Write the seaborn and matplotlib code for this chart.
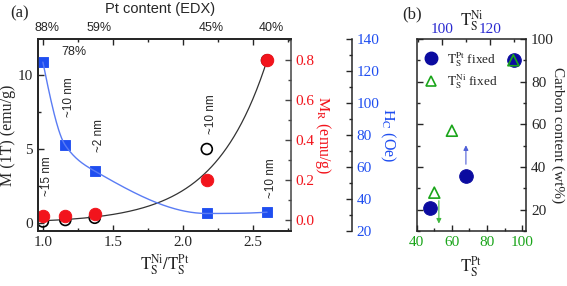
import numpy as np
import matplotlib
matplotlib.use("Agg")
import matplotlib.pyplot as plt
from matplotlib.ticker import MultipleLocator
from matplotlib.lines import Line2D
import seaborn as sns

# panel (a): ratio of sulfidation temperatures
RATIO = [1.00, 1.16, 1.37, 2.17, 2.60]
M_1T = [0.10, 0.20, 0.35, 5.0, 11.0]        # emu/g, open circles
M_R = [0.020, 0.022, 0.028, 0.20, 0.80]     # emu/g, red circles
H_C = [125.5, 73.5, 57.5, 31.0, 31.8]       # Oe, blue squares
PT_CONTENT = ["88%", "78%", "59%", "45%", "40%"]
SIZE_NOTES = ["~15 nm", "~10 nm", "~2 nm", "~10 nm", "~10 nm"]

# exponential fit drawn through M(1T) in the original: amp at last point, rate
M_FIT_AMP, M_FIT_RATE = 11.0, 2.68

# panel (b): carbon content
TNI_VARIED = [95, 110, 130]        # T_S^Pt fixed, plotted on top axis
CARBON_PT_FIXED = [21, 36, 90]
TPT_VARIED = [50, 60, 95]          # T_S^Ni fixed, plotted on bottom axis
CARBON_NI_FIXED = [28, 57, 90]

BLUE = "#1f4ef0"
BLUE_LINE = "#5a7cf4"
RED = "#f2141c"
NAVY = "#0b0ba0"
GREEN = "#1aa51a"
SANS = "Liberation Sans"


def pchip(x, y, xs):
    """monotone cubic (Fritsch-Carlson) guide line through the points"""
    x, y = np.asarray(x, float), np.asarray(y, float)
    h = np.diff(x)
    d = np.diff(y) / h
    m = np.zeros_like(y)
    for k in range(1, len(x) - 1):
        if d[k - 1] * d[k] > 0:
            w1, w2 = 2 * h[k] + h[k - 1], h[k] + 2 * h[k - 1]
            m[k] = (w1 + w2) / (w1 / d[k - 1] + w2 / d[k])
    for i, (h0, h1, d0, d1) in ((0, (h[0], h[1], d[0], d[1])),
                                (-1, (h[-1], h[-2], d[-1], d[-2]))):
        e = ((2 * h0 + h1) * d0 - h0 * d1) / (h0 + h1)
        if np.sign(e) != np.sign(d0):
            e = 0.0
        elif np.sign(d0) != np.sign(d1) and abs(e) > abs(3 * d0):
            e = 3 * d0
        m[i] = e
    idx = np.clip(np.searchsorted(x, xs) - 1, 0, len(x) - 2)
    t = (xs - x[idx]) / h[idx]
    h00 = 2 * t**3 - 3 * t**2 + 1
    h10 = t**3 - 2 * t**2 + t
    h01 = -2 * t**3 + 3 * t**2
    h11 = t**3 - t**2
    return (h00 * y[idx] + h10 * h[idx] * m[idx]
            + h01 * y[idx + 1] + h11 * h[idx] * m[idx + 1])


def style_ticks(ax, **kw):
    ax.tick_params(which="major", direction="in", length=4.5, width=1, **kw)
    ax.tick_params(which="minor", direction="in", length=2.5, width=1, **kw)


sns.set_theme(style="ticks")
plt.rcParams["font.family"] = "serif"
plt.rcParams["font.serif"] = ["Liberation Serif", "DejaVu Serif"]
plt.rcParams["mathtext.fontset"] = "stix"
plt.rcParams["axes.linewidth"] = 1.1

fig = plt.figure(figsize=(5.67, 2.86), dpi=100)

# ---------------- panel (a)
ax = fig.add_axes([0.067, 0.192, 0.446, 0.672])
ax_r = ax.twinx()
ax_h = ax.twinx()
ax_h.spines["right"].set_position(("axes", 1.241))

xs = np.linspace(RATIO[0], RATIO[-1], 300)
m_curve = M_FIT_AMP * np.exp(M_FIT_RATE * (xs - RATIO[-1]))

sns.lineplot(x=xs, y=m_curve, color="#333333", lw=0.9, ax=ax)
sns.scatterplot(x=RATIO, y=M_1T, marker="o", s=62, facecolor="none",
                edgecolor="black", linewidth=1.2, ax=ax)
sns.scatterplot(x=RATIO, y=M_R, marker="o", s=80, color=RED, edgecolor=RED, ax=ax_r)
sns.lineplot(x=xs, y=pchip(RATIO, H_C, xs), color=BLUE_LINE, lw=1, ax=ax_h)
sns.scatterplot(x=RATIO, y=H_C, marker="s", s=62, color=BLUE, edgecolor=BLUE, ax=ax_h)

ax.set_xlim(0.965, 2.77)
ax.set_ylim(-0.55, 12.45)
ax.xaxis.set_major_locator(MultipleLocator(0.5))
ax.xaxis.set_minor_locator(MultipleLocator(0.25))
ax.yaxis.set_major_locator(MultipleLocator(5))
ax.yaxis.set_minor_locator(MultipleLocator(2.5))
style_ticks(ax, top=True, labelsize=11)
ax.tick_params(axis="x", labeltop=False)
ax.spines["right"].set_visible(False)
ax.set_xlabel(r"$\mathrm{T_S^{Ni}/T_S^{Pt}}$", fontsize=12, labelpad=2)
ax.set_ylabel("M (1T) (emu/g)", fontsize=11.5, labelpad=1)

ax_r.set_ylim(-0.055, 0.905)
ax_r.yaxis.set_major_locator(MultipleLocator(0.2))
ax_r.yaxis.set_minor_locator(MultipleLocator(0.1))
ax_r.yaxis.set_major_formatter("{x:.1f}")
style_ticks(ax_r, labelsize=11, labelcolor=RED, color="#444444")
ax_r.spines["right"].set_color("#444444")
ax_r.set_ylabel(r"$\mathrm{M_R}$ (emu/g)", color=RED, fontsize=11.5,
                rotation=270, labelpad=13)

ax_h.set_ylim(20, 140)
ax_h.yaxis.set_major_locator(MultipleLocator(20))
ax_h.yaxis.set_minor_locator(MultipleLocator(10))
style_ticks(ax_h, labelsize=11, labelcolor=BLUE)
ax_h.set_ylabel(r"$\mathrm{H_C}$ (Oe)", color=BLUE, fontsize=11.5,
                rotation=270, labelpad=13)

for x, label in zip(RATIO, PT_CONTENT):
    inside = label == "78%"
    ax.annotate(label, xy=(x, 0.93 if inside else 1.057),
                xycoords=("data", "axes fraction"), xytext=(6 if inside else 3, 0),
                textcoords="offset points", ha="center", va="center",
                fontsize=9, family=SANS)

note_y = [3.2, 8.5, 5.9, 7.35, 3.0]
for x, y, note in zip(RATIO, note_y, SIZE_NOTES):
    ax.annotate(note, xy=(x, y), xytext=(3, 0), textcoords="offset points",
                rotation=90, ha="center", va="center", fontsize=8.5, family=SANS)

fig.text(0.282, 0.968, "Pt content (EDX)", ha="center", va="center",
         fontsize=10.5, family=SANS)
fig.text(0.018, 0.952, "(a)", ha="left", va="center", fontsize=12)

# ---------------- panel (b)
bx = fig.add_axes([0.735, 0.192, 0.193, 0.672])
bx_top = bx.twiny()

sns.scatterplot(x=TPT_VARIED, y=CARBON_NI_FIXED, marker="^", s=62,
                facecolor="none", edgecolor=GREEN, linewidth=1.2, ax=bx, zorder=4)
sns.scatterplot(x=TNI_VARIED, y=CARBON_PT_FIXED, marker="o", s=95,
                color=NAVY, edgecolor=NAVY, ax=bx_top, zorder=3)
bx.set_zorder(bx_top.get_zorder() + 1)
bx.patch.set_visible(False)

bx_top.annotate("", xy=(TNI_VARIED[1], 51.5), xytext=(TNI_VARIED[1], 40),
                arrowprops=dict(arrowstyle="-|>", color="#5060d8", lw=0.8,
                                mutation_scale=7))
bx.annotate("", xy=(52.6, 12.2), xytext=(52.6, 25.5),
            arrowprops=dict(arrowstyle="-|>", color="#40b840", lw=0.8,
                            mutation_scale=7))

bx.set_xlim(40, 102.3)
bx.set_ylim(10, 100)
bx.xaxis.set_major_locator(MultipleLocator(20))
bx.xaxis.set_minor_locator(MultipleLocator(10))
bx.yaxis.set_major_locator(MultipleLocator(20))
bx.yaxis.set_minor_locator(MultipleLocator(10))
style_ticks(bx, left=True, right=True, top=False, labelsize=11)
bx.tick_params(axis="y", labelleft=False, labelright=True)
bx.tick_params(axis="x", labelcolor=GREEN)
bx.yaxis.set_label_position("right")
bx.set_ylabel("Carbon content (wt%)", fontsize=11, rotation=270,
              va="center", ha="center")
bx.yaxis.set_label_coords(1.29, 0.5)
bx.set_xlabel(r"$\mathrm{T_S^{Pt}}$", fontsize=12, labelpad=4)

bx_top.set_xlim(89.6, 135)
bx_top.xaxis.set_major_locator(MultipleLocator(20))
bx_top.xaxis.set_minor_locator(MultipleLocator(10))
style_ticks(bx_top, labelsize=11)
bx_top.tick_params(axis="x", labelcolor="#2a2ad0", pad=2)
bx_top.set_xlabel(r"$\mathrm{T_S^{Ni}}$", fontsize=12, labelpad=-2)
for s in bx_top.spines.values():
    s.set_visible(False)

handles = [
    Line2D([], [], ls="none", marker="o", ms=9, color=NAVY),
    Line2D([], [], ls="none", marker="^", ms=7.5, mfc="none", mec=GREEN, mew=1.2),
]
bx.legend(handles, [r"$\mathrm{T_S^{Pt}}$ fixed", r"$\mathrm{T_S^{Ni}}$ fixed"],
          loc="upper left", bbox_to_anchor=(-0.04, 0.97), frameon=False,
          fontsize=9.5, handletextpad=0.2, labelspacing=0.3, borderaxespad=0)

fig.text(0.709, 0.948, "(b)", ha="left", va="center", fontsize=12)

fig.savefig("out.png", dpi=100)
